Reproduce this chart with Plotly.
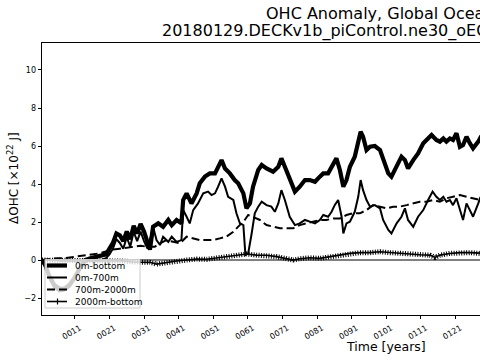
import plotly.graph_objects as go

# ---------------- data ----------------
years_total = [1.5, 2.5, 3.5, 5, 6.5, 8, 9.5, 11, 12.5, 14, 15.5, 17, 18.5, 20, 21, 22, 23, 24, 25, 26, 27, 28, 29, 30, 31, 32,
               32.7, 33.6, 35.1, 36.5, 38.0, 39.0, 40.4, 41.8, 42.3, 43.3, 44.7, 46.2, 47.1, 48.6, 50.0, 51.5, 52.4, 53.4,
               54.4, 55.8, 57.2, 58.2, 59.7, 60.6, 61.6, 62.5, 64.0, 65.0, 66.4, 68.3, 69.8, 70.7, 71.7, 73.1, 74.6, 76.0,
               77.5, 78.9, 80.4, 81.8, 82.8, 84.2, 85.2, 86.6, 87.6, 88.6, 89.5, 90.5, 91.9, 92.9, 93.6, 94.3, 95.3, 96.3,
               97.7, 99.2, 100.1, 101.6, 102.5, 104.0, 105.4, 106.4, 107.3, 108.8, 110.2, 111.7, 113.1, 114.1, 115.5,
               116.5, 117.5, 118.4, 119.4, 120.3, 121.3, 122.3, 123.2, 124.2, 125.2, 126.1, 127.6, 128.1, 129.5]
ohc_total = [0.0, -0.3, -0.8, -1.3, -1.5, -1.5, -1.3, -0.9, -0.4, 0.0, 0.1, 0.15, 0.2, 0.3, 0.6, 0.9, 1.4, 1.3, 1.0, 1.5, 1.1, 1.8, 1.4, 1.9, 1.5, 1.0,
             0.55, 1.75, 1.93, 1.75, 2.11, 1.84, 2.11, 1.93, 3.16, 3.51, 2.98, 3.51, 4.04, 4.39, 4.56, 4.56, 4.91, 5.26,
             4.82, 4.56, 4.21, 4.04, 3.51, 2.72, 2.98, 3.86, 4.74, 5.00, 4.82, 4.65, 4.91, 5.35, 4.91, 4.21, 3.60, 3.86,
             4.21, 4.21, 4.12, 4.39, 4.56, 4.56, 4.91, 5.35, 4.74, 3.86, 4.21, 4.91, 5.44, 6.14, 6.75, 6.49, 5.79, 5.96,
             6.00, 5.79, 5.26, 4.56, 4.39, 4.91, 5.44, 5.26, 4.82, 5.26, 5.61, 6.14, 6.40, 6.58, 6.32,
             6.23, 6.40, 6.23, 6.40, 6.32, 6.67, 5.96, 6.05, 6.49, 6.14, 5.88, 6.23, 6.40, 6.10]

years_upper = [1.5, 2.5, 3.5, 5, 6.5, 8, 9.5, 11, 12.5, 14, 15.5, 17, 18.5, 20, 21, 22, 23, 24, 25, 26, 27, 28, 29, 30, 31, 32,
               32.7, 33.6, 34.6, 35.6, 36.5, 38.0, 39.0, 40.4, 41.8, 42.3, 43.3, 44.2, 45.2, 46.6, 48.1, 49.5, 50.5, 51.5,
               52.4, 53.4, 54.4, 55.3, 56.8, 57.7, 58.7, 59.7, 60.3, 61.1, 62.1, 63.0, 64.0, 65.0, 66.4, 67.8, 68.8, 69.8,
               70.7, 71.7, 73.1, 74.6, 76.0, 77.5, 78.9, 80.4, 81.8, 82.8, 84.2, 85.2, 86.1, 87.1, 88.1, 88.6, 89.5, 90.5,
               91.9, 92.9, 93.6, 94.3, 95.3, 96.3, 97.7, 99.2, 100.1, 101.6, 102.5, 104.0, 105.4, 106.4, 107.3, 108.8,
               110.2, 111.7, 113.1, 114.4, 115.5, 116.5, 117.5, 118.4, 119.4, 120.3, 121.3, 122.3, 123.2, 124.2, 125.2,
               126.1, 127.6, 128.1, 129.5]
ohc_upper = [0.0, -0.35, -0.9, -1.45, -1.65, -1.6, -1.4, -1.0, -0.5, -0.1, 0.0, -0.05, 0.0, 0.1, 0.3, 0.6, 1.1, 0.9, 0.6, 1.2, 0.7, 1.5, 1.0, 1.5, 1.0, 0.6,
             1.05, 1.75, 1.05, 0.79, 1.23, 0.96, 1.23, 0.96, 1.05, 2.63, 2.28, 1.93, 2.63, 2.98, 3.51, 3.60, 3.42, 3.51,
             3.86, 4.30, 3.86, 3.33, 3.16, 2.46, 1.93, 1.84, 0.26, 0.35, 1.40, 2.46, 2.81, 3.07, 2.89, 2.81, 2.54, 2.98,
             3.68, 3.16, 2.28, 1.84, 1.93, 2.11, 2.02, 1.93, 2.11, 2.37, 2.28, 2.54, 2.89, 3.16, 2.28, 1.40, 1.93, 2.02,
             2.54, 3.33, 4.21, 3.68, 3.16, 2.81, 2.89, 2.72, 2.11, 1.58, 1.40, 1.93, 2.28, 2.72, 2.11, 1.75,
             2.28, 2.63, 3.16, 3.60, 3.33, 3.16, 3.33, 3.07, 3.16, 2.89, 3.25, 2.63, 2.11, 2.98, 2.63,
             2.28, 2.98, 3.25, 3.0]

years_mid = [1.5, 4, 6, 8, 10, 12, 14, 16, 18, 20, 22, 24, 26, 28, 30, 32, 34.1, 35.6, 37.5, 39.4, 41.4, 43.3, 45.2, 47.1,
             49.1, 51.0, 52.9, 54.8, 56.8, 58.7, 60.1, 61.1, 62.5, 64.5, 66.4, 68.3, 70.3, 72.2, 74.1, 76.0, 78.0, 79.9,
             81.8, 83.7, 85.7, 87.6, 89.5, 91.4, 93.4, 95.3, 97.2, 99.2, 101.1, 103.0, 104.9, 106.9, 108.8, 110.7, 112.6,
             114.6, 116.5, 118.4, 120.3, 122.3, 124.2, 126.1, 128.1, 129.5]
ohc_mid = [0.0, 0.05, 0.1, 0.1, 0.15, 0.2, 0.25, 0.3, 0.35, 0.45, 0.55, 0.6, 0.65, 0.7, 0.75, 0.7, 0.70, 0.88, 1.05, 0.96,
           0.88, 1.23, 1.14, 1.05, 1.05, 1.05, 1.14, 1.23, 1.49, 1.84, 2.11, 2.37, 2.28, 2.11, 1.84, 1.75, 1.67, 1.67, 1.67,
           1.84, 1.93, 2.02, 2.11, 2.11, 2.19, 2.19, 2.37, 2.46, 2.46, 2.63, 2.89, 2.81, 2.72, 2.81, 2.81, 2.89, 2.98,
           3.07, 3.07, 3.16, 3.07, 3.25, 3.33, 3.42, 3.33, 3.25, 3.16, 3.1]

years_deep = [1.5, 4, 7, 10, 13, 16, 19, 22, 25, 28, 30, 32.7, 34.6, 37.5, 40.4, 43.3, 46.2, 49.1, 52.0, 54.8, 57.7, 60.6,
              63.5, 66.4, 69.3, 71.2, 73.1, 74.1, 76.0, 78.9, 81.8, 84.7, 87.6, 90.5, 93.4, 96.3, 99.2, 102.0, 105.0,
              107.8, 110.7, 113.6, 115.1, 116.5, 119.4, 122.3, 125.2, 128.1, 129.5]
ohc_deep = [0.0, 0.0, -0.05, -0.05, -0.05, -0.05, -0.05, -0.05, -0.05, -0.1, -0.1, -0.12, -0.21, -0.12, -0.05, 0.0, 0.05,
            0.04, 0.11, 0.18, 0.25, 0.32, 0.26, 0.25, 0.18, 0.11, 0.04, 0.0, 0.07, 0.12, 0.09, 0.18, 0.25, 0.35, 0.39,
            0.39, 0.44, 0.39, 0.35, 0.32, 0.28, 0.26, 0.14, 0.26, 0.35, 0.39, 0.39, 0.35, 0.35]

series_names = ["0m-bottom", "0m-700m", "700m-2000m", "2000m-bottom"]
tick_years = [11, 21, 31, 41, 51, 61, 71, 81, 91, 101, 111, 121]
tick_labels = ["0011", "0021", "0031", "0041", "0051", "0061", "0071", "0081", "0091", "0101", "0111", "0121"]
y_ticks = [-2, 0, 2, 4, 6, 8, 10]
y_tick_labels = ["\u22122", "0", "2", "4", "6", "8", "10"]

# ---------------- layout geometry ----------------
W, H = 480, 360
ML, MR, MT, MB = 42, 0, 43, 45
PW, PH = W - ML - MR, H - MT - MB
FONT = "DejaVu Sans"


def px(xp):
    return (xp - ML) / PW


def py(yp):
    return (H - MB - yp) / PH


fig = go.Figure()
fig.add_trace(go.Scatter(x=years_total, y=ohc_total, mode="lines", name=series_names[0],
                         line=dict(color="black", width=4.2), showlegend=False))
fig.add_trace(go.Scatter(x=years_upper, y=ohc_upper, mode="lines", name=series_names[1],
                         line=dict(color="black", width=2), showlegend=False))
fig.add_trace(go.Scatter(x=years_mid, y=ohc_mid, mode="lines", name=series_names[2],
                         line=dict(color="black", width=2, dash="8px,4px"), showlegend=False))
# '+' markers look: a wide 1px-dash stroke gives perpendicular ticks along the line
fig.add_trace(go.Scatter(x=years_deep, y=ohc_deep, mode="lines", name=series_names[3],
                         line=dict(color="black", width=5, dash="1px,1.5px"), showlegend=False))
fig.add_trace(go.Scatter(x=years_deep, y=ohc_deep, mode="lines", name=series_names[3],
                         line=dict(color="black", width=1.6), showlegend=False))

# ---------------- legend drawn as shapes/annotations ----------------
shapes = [dict(type="rect", xref="paper", yref="paper", x0=px(45), x1=px(140), y0=py(308), y1=py(259.5),
               fillcolor="rgba(255,255,255,0.8)", line=dict(color="#cccccc", width=1), layer="above")]
rows = [265.5, 277.5, 289.5, 301.5]
styles = [dict(width=4.2), dict(width=2), dict(width=2, dash="8px,4px"), dict(width=1.6)]
annotations = []
for yrow, st, name in zip(rows, styles, series_names):
    shapes.append(dict(type="line", xref="paper", yref="paper", x0=px(47), x1=px(67), y0=py(yrow), y1=py(yrow),
                       line=dict(color="black", **st), layer="above"))
    annotations.append(dict(text=name, xref="paper", yref="paper", x=px(73), y=py(yrow), xanchor="left",
                            yanchor="middle", showarrow=False, font=dict(family=FONT, size=9, color="black")))
shapes.append(dict(type="line", xref="paper", yref="paper", x0=px(57.5), x1=px(57.5), y0=py(rows[3] - 3),
                   y1=py(rows[3] + 3), line=dict(color="black", width=1.2), layer="above"))

# titles / axis labels
annotations += [
    dict(text="OHC Anomaly, Global Ocean", xref="paper", yref="paper", x=px(264), y=py(14), xanchor="left",
         yanchor="middle", showarrow=False, font=dict(family=FONT, size=16, color="black")),
    dict(text="20180129.DECKv1b_piControl.ne30_oECv3_ICG.edison", xref="paper", yref="paper", x=px(160), y=py(31),
         xanchor="left", yanchor="middle", showarrow=False, font=dict(family=FONT, size=16, color="black")),
    dict(text="Time [years]", xref="paper", yref="paper", x=px(386), y=py(346), xanchor="center",
         yanchor="middle", showarrow=False, font=dict(family=FONT, size=12.5, color="black")),
    dict(text="\u0394OHC [\u00d710<sup>22</sup> J]", xref="paper", yref="paper", x=px(13), y=py(178),
         xanchor="center", yanchor="middle", textangle=-90, showarrow=False,
         font=dict(family=FONT, size=12, color="black")),
]

fig.update_layout(
    width=W, height=H, margin=dict(l=ML, r=MR, t=MT, b=MB, pad=0),
    paper_bgcolor="white", plot_bgcolor="white",
    font=dict(family=FONT, color="black"),
    showlegend=False, shapes=shapes, annotations=annotations,
)
fig.update_xaxes(range=[1.5, 128.1], tickvals=tick_years, ticktext=tick_labels, tickangle=-30,
                 tickfont=dict(size=8, family=FONT, color="black"), ticks="outside", ticklen=3.5, tickwidth=0.8,
                 tickcolor="black", showline=True, linecolor="black", linewidth=0.8, mirror=True,
                 showgrid=False, zeroline=False, ticklabelshift=5, ticklabelstandoff=1)
fig.update_yaxes(range=[-2.89, 11.42], tickvals=y_ticks, ticktext=y_tick_labels,
                 tickfont=dict(size=8, family=FONT, color="black"), ticks="outside", ticklen=3.5, tickwidth=0.8,
                 tickcolor="black", showline=True, linecolor="black", linewidth=0.8, showgrid=False,
                 zeroline=True, zerolinecolor="#808080", zerolinewidth=1.5)

fig.write_html("out.html", config={"displayModeBar": False},
               post_script="document.body.style.margin='0';document.body.style.overflow='hidden';")
